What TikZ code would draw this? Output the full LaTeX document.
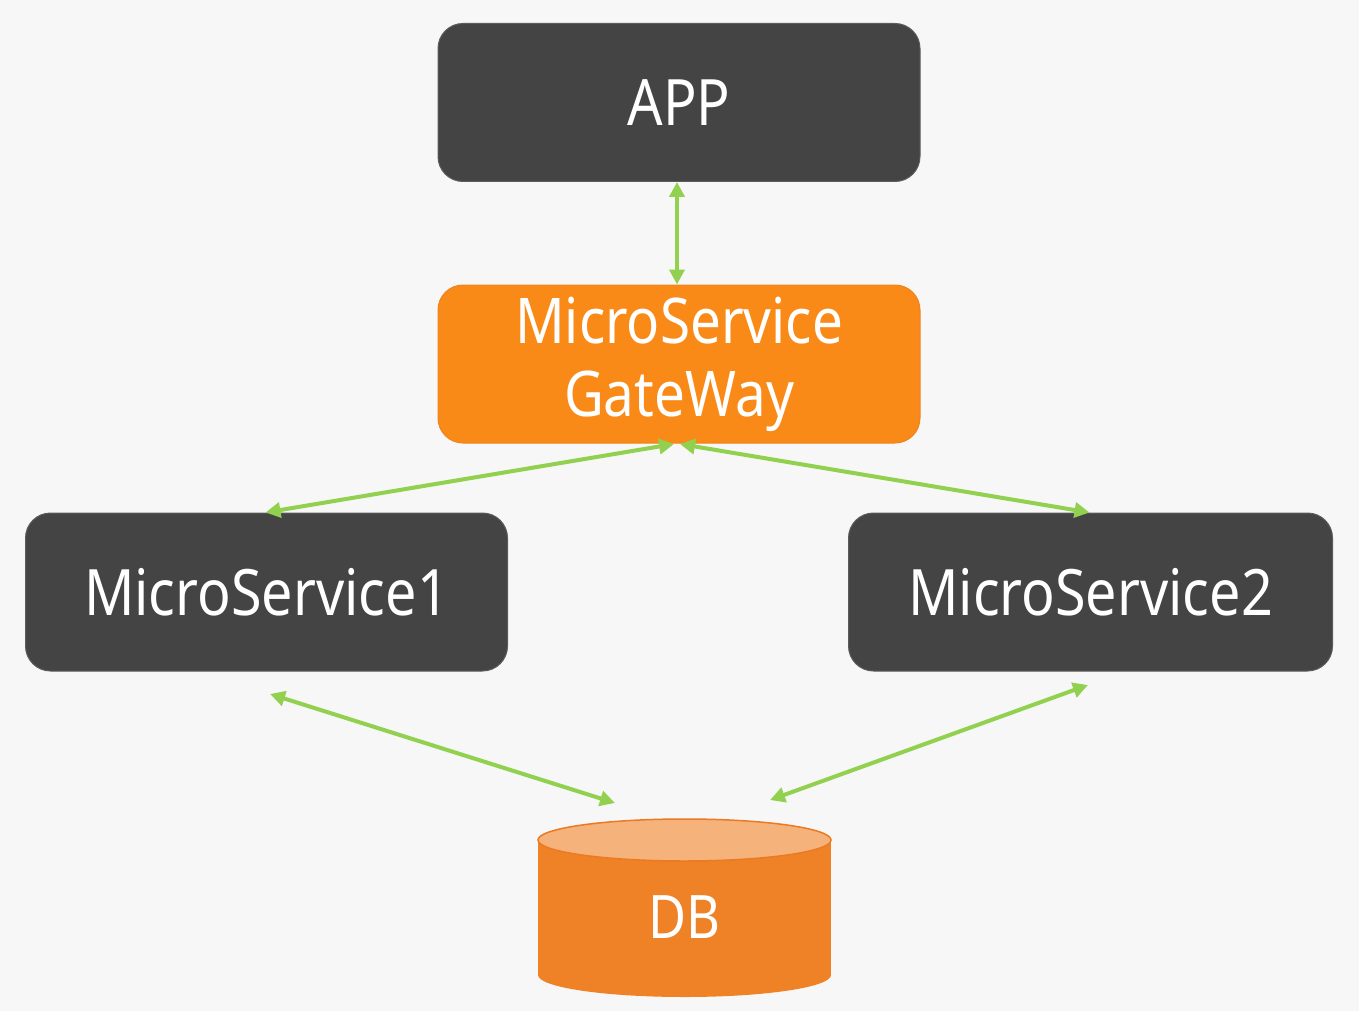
\documentclass[tikz,border=0pt]{standalone}
\usepackage{fontspec}
\setmainfont[FakeStretch=0.87]{Noto Sans}
\usetikzlibrary{arrows.meta}
\definecolor{bgc}{HTML}{F7F7F7}
\definecolor{darkbox}{HTML}{444444}
\definecolor{darkedge}{HTML}{5C5C5C}
\definecolor{gworange}{HTML}{F98A17}
\definecolor{gwedge}{HTML}{EE8420}
\definecolor{dbbody}{HTML}{EF8227}
\definecolor{dbtop}{HTML}{F5B27B}
\definecolor{dbedge}{HTML}{EB7A22}
\definecolor{linkgreen}{HTML}{92D050}
\begin{document}
\begin{tikzpicture}[x=1pt,y=-1pt,
  box/.style={rounded corners=25pt, fill=darkbox, draw=darkedge, line width=1pt,
    minimum width=482pt, minimum height=158pt, text=white, inner sep=0pt,
    align=center, font=\fontsize{64}{74}\selectfont},
  gwbox/.style={box, fill=gworange, draw=gwedge, font=\fontsize{63}{73}\selectfont},
  link/.style={draw=linkgreen, line width=4pt,
    {Triangle[length=15pt,width=15pt]}-{Triangle[length=15pt,width=15pt]}},
  dblabel/.style={text=white, inner sep=0pt, font=\fontsize{60}{70}\selectfont}]
\fill[bgc] (0,0) rectangle (1359,1011);
\useasboundingbox (0,0) rectangle (1359,1011);

\node[box] (app) at (679,102.5) {APP};
\node[gwbox] (gw) at (679,364) {\raisebox{-3pt}{MicroService}\\\raisebox{-3pt}{GateWay}};
\node[box] (ms1) at (266.5,592) {MicroService1};
\node[box, minimum width=484pt] (ms2) at (1090.5,592) {MicroService2};

% database cylinder
\fill[dbbody] (684.5,975) ellipse [x radius=146.5, y radius=22];
\fill[dbbody] (538,840) rectangle (831,975);
\filldraw[fill=dbtop, draw=dbedge, line width=1.5pt] (684.5,840) ellipse [x radius=146.5, y radius=21];
\node[dblabel] (db) at (684.5,917.5) {DB};

\coordinate (gwl) at (674,444);
\coordinate (gwr) at (680,444);
\coordinate (ms1b) at (270,694);
\coordinate (ms2b) at (1088,685);
\coordinate (dbl) at (615,803);
\coordinate (dbr) at (770,800);

\draw[link] ([xshift=-2pt]app.south) -- ([xshift=-2pt]gw.north);
\draw[link] (gwl) -- ([xshift=-1pt]ms1.north);
\draw[link] (gwr) -- ([xshift=-1pt]ms2.north);
\draw[link] (ms1b) -- (dbl);
\draw[link] (ms2b) -- (dbr);
\end{tikzpicture}
\end{document}
